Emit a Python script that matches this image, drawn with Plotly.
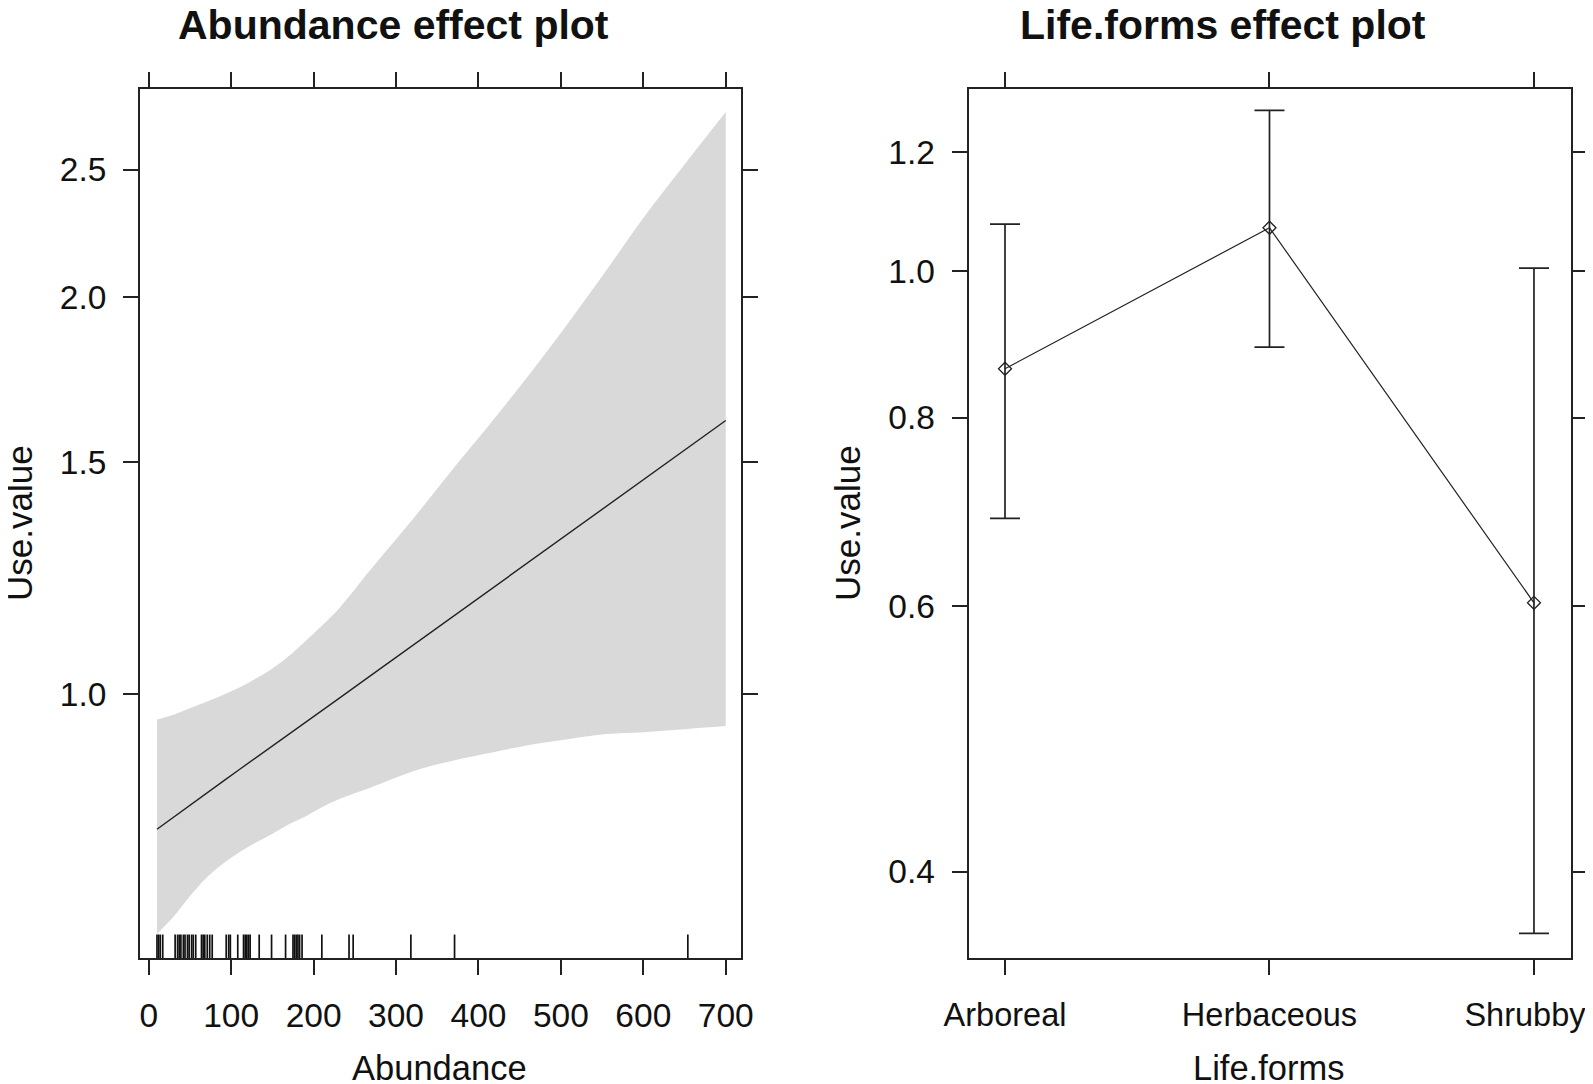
import plotly.graph_objects as go

# ---------------- data ----------------
# Left panel: Abundance effect (fit and 95% band)
abund_x = [10, 30, 50, 70, 90, 110, 130, 150, 170, 190, 210, 230, 270, 320, 370,
           415, 460, 510, 555, 600, 650, 700]
abund_fit = [0.790, 0.807, 0.824, 0.841, 0.859, 0.877, 0.895, 0.914, 0.933, 0.952,
             0.972, 0.992, 1.034, 1.089, 1.147, 1.202, 1.259, 1.326, 1.389, 1.455,
             1.532, 1.613]
abund_upper = [0.957, 0.965, 0.976, 0.987, 0.999, 1.012, 1.028, 1.046, 1.069, 1.097,
               1.127, 1.160, 1.245, 1.357, 1.485, 1.606, 1.743, 1.917, 2.096, 2.298,
               2.523, 2.765]
abund_lower = [0.658, 0.678, 0.703, 0.726, 0.744, 0.759, 0.772, 0.784, 0.797, 0.808,
               0.821, 0.832, 0.850, 0.874, 0.891, 0.903, 0.915, 0.925, 0.933, 0.936,
               0.941, 0.946]
rug_x = [10, 12, 14, 17, 32, 35, 37, 39, 42, 44, 47, 49, 52, 54, 57, 64, 66, 68, 71,
         74, 77, 94, 97, 99, 108, 115, 117, 119, 121, 123, 134, 149, 166, 175, 177,
         179, 181, 183, 186, 210, 243, 248, 318, 371, 654]
abund_xticks = [0, 100, 200, 300, 400, 500, 600, 700]
abund_yticks = [1.0, 1.5, 2.0, 2.5]
abund_yticktext = ["1.0", "1.5", "2.0", "2.5"]

# Right panel: Life.forms effect
life_forms = ["Arboreal", "Herbaceous", "Shrubby"]
life_fit = [0.862, 1.069, 0.603]
life_upper = [1.075, 1.279, 1.005]
life_lower = [0.686, 0.891, 0.364]
life_yticks = [0.4, 0.6, 0.8, 1.0, 1.2]
life_yticktext = ["0.4", "0.6", "0.8", "1.0", "1.2"]

# ---------------- figure ----------------
OFF = 8                      # page body margin of the html page
W, H = 1593 - OFF, 1084 - OFF
FONT = "Liberation Sans, Arial, sans-serif"


def px(X):          # screen x -> paper
    return (X - OFF) / W


def py(Y):          # screen y -> paper
    return 1 - (Y - OFF) / H


fig = go.Figure()

# confidence band
fig.add_trace(go.Scatter(x=abund_x, y=abund_lower, mode="lines",
                         line=dict(width=0, color="rgba(0,0,0,0)", shape="spline"),
                         showlegend=False, hoverinfo="skip", xaxis="x", yaxis="y"))
fig.add_trace(go.Scatter(x=abund_x, y=abund_upper, mode="lines",
                         line=dict(width=0, color="rgba(0,0,0,0)", shape="spline"),
                         fill="tonexty", fillcolor="#d9d9d9",
                         showlegend=False, hoverinfo="skip", xaxis="x", yaxis="y"))
fig.add_trace(go.Scatter(x=abund_x, y=abund_fit, mode="lines",
                         line=dict(width=1.4, color="#222222"),
                         showlegend=False, xaxis="x", yaxis="y"))

# rug
for rx in rug_x:
    fig.add_shape(type="line", xref="x", yref="y domain", x0=rx, x1=rx,
                  y0=0, y1=0.027, line=dict(color="#111111", width=1.7))

# right panel
lf_idx = [1, 2, 3]
fig.add_trace(go.Scatter(
    x=lf_idx, y=life_fit, mode="lines+markers",
    line=dict(width=1.2, color="#222222"),
    marker=dict(symbol="diamond-open", size=10, color="#222222", line=dict(width=1.3)),
    error_y=dict(type="data", symmetric=False,
                 array=[u - f for u, f in zip(life_upper, life_fit)],
                 arrayminus=[f - l for f, l in zip(life_fit, life_lower)],
                 color="#222222", thickness=1.7, width=15),
    showlegend=False, xaxis="x2", yaxis="y2"))


def axis_style(size):
    return dict(showline=True, linecolor="#222222", linewidth=1.7, mirror="allticks",
                ticks="outside", ticklen=15, tickwidth=1.7, tickcolor="#222222",
                showgrid=False, zeroline=False, automargin=False,
                ticklabeloverflow="allow",
                tickfont=dict(family=FONT, size=size, color="#111111"))


# last label nudged left (trailing no-break spaces) so it stays inside the page edge
life_ticktext = life_forms[:-1] + [life_forms[-1] + "\u00a0\u00a0"]

fig.update_layout(
    width=W, height=H,
    margin=dict(l=0, r=0, t=0, b=0, pad=0, autoexpand=False),
    paper_bgcolor="white", plot_bgcolor="white",
    xaxis=dict(domain=[px(140), px(741)], range=[-10.6, 718.5],
               tickvals=abund_xticks, ticklabelstandoff=12, anchor="y",
               **axis_style(33.5)),
    yaxis=dict(domain=[py(958), py(89)], type="log", range=[-0.2, 0.4591],
               tickvals=abund_yticks, ticktext=abund_yticktext, ticklabelstandoff=10,
               anchor="x", **axis_style(33.5)),
    xaxis2=dict(domain=[px(968.5), px(1571)], range=[0.862, 3.14],
                tickvals=lf_idx, ticktext=life_ticktext, ticklabelstandoff=12,
                anchor="y2", **axis_style(32.5)),
    yaxis2=dict(domain=[py(958), py(89)], type="log", range=[-0.4552, 0.121],
                tickvals=life_yticks, ticktext=life_yticktext, ticklabelstandoff=10,
                anchor="x2", **axis_style(33.5)),
)


def ann(text, X, Y, size, bold=False, angle=0):
    fig.add_annotation(text=f"<b>{text}</b>" if bold else text,
                       x=px(X), y=py(Y), xref="paper", yref="paper",
                       xanchor="center", yanchor="middle", showarrow=False,
                       textangle=angle,
                       font=dict(family=FONT, size=size, color="#111111"))


ann("Abundance effect plot", 393, 25, 41, bold=True)
ann("Life.forms effect plot", 1223, 25, 41, bold=True)
ann("Abundance", 439, 1068, 34.5)
ann("Life.forms", 1268, 1068, 34.5)
ann("Use.value", 19, 523, 35, angle=-90)
ann("Use.value", 847, 523, 35, angle=-90)

fig.write_html("out.html")
